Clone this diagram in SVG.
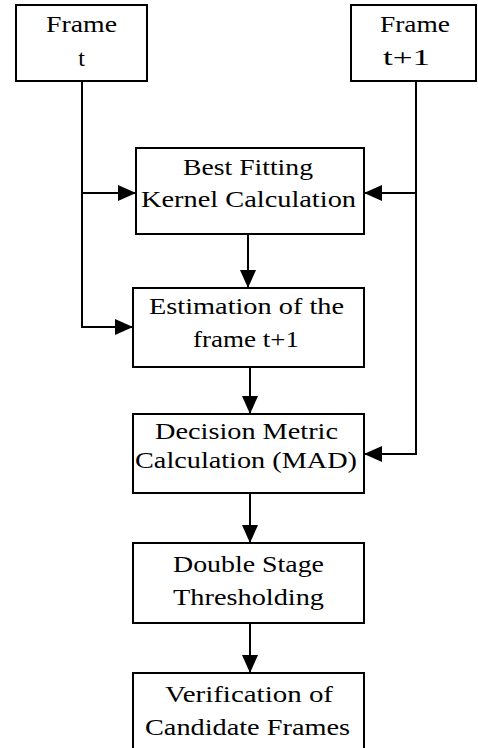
<svg xmlns="http://www.w3.org/2000/svg" width="478" height="748" viewBox="0 0 478 748">
<style>
.box{fill:#fff;stroke:#000;stroke-width:2}
.lbl{font-family:"Liberation Serif","Times New Roman",serif;font-size:24px;fill:#000}
.ln{fill:none;stroke:#000;stroke-width:2}
</style>
<defs>
<marker id="ah" viewBox="0 0 18 16" refX="18" refY="8" markerWidth="18" markerHeight="16" markerUnits="userSpaceOnUse" orient="auto">
<path d="M0,0 L18,8 L0,16 z" fill="#000"/>
</marker>
</defs>
<rect width="478" height="748" fill="#fff"/>
<g id="connectors">
<path class="ln" d="M82,81 V327 H133" marker-end="url(#ah)"/>
<path class="ln" d="M82,193 H136" marker-end="url(#ah)"/>
<path class="ln" d="M416,81 V454 H364" marker-end="url(#ah)"/>
<path class="ln" d="M416,193 H364" marker-end="url(#ah)"/>
<path class="ln" d="M248,234 V288" marker-end="url(#ah)"/>
<path class="ln" d="M250,367 V414" marker-end="url(#ah)"/>
<path class="ln" d="M250,493 V543" marker-end="url(#ah)"/>
<path class="ln" d="M250,623 V673" marker-end="url(#ah)"/>
</g>
<g id="frame-t">
<rect class="box" x="16" y="5" width="131" height="76"/>
<text class="lbl" x="46" y="32" textLength="71" lengthAdjust="spacingAndGlyphs">Frame</text>
<text class="lbl" x="81.5" y="66" text-anchor="middle">t</text>
</g>
<g id="frame-t1">
<rect class="box" x="351" y="5" width="125" height="76"/>
<text class="lbl" x="380" y="32" textLength="70" lengthAdjust="spacingAndGlyphs">Frame</text>
<text class="lbl" x="383" y="65" textLength="47" lengthAdjust="spacingAndGlyphs">t+1</text>
</g>
<g id="best-fitting">
<rect class="box" x="136" y="148" width="228" height="86"/>
<text class="lbl" x="183" y="175" textLength="130" lengthAdjust="spacingAndGlyphs">Best Fitting</text>
<text class="lbl" x="141" y="207" textLength="215" lengthAdjust="spacingAndGlyphs">Kernel Calculation</text>
</g>
<g id="estimation">
<rect class="box" x="133" y="288" width="231" height="79"/>
<text class="lbl" x="149" y="314" textLength="195" lengthAdjust="spacingAndGlyphs">Estimation of the</text>
<text class="lbl" x="193" y="347" textLength="106" lengthAdjust="spacingAndGlyphs">frame t+1</text>
</g>
<g id="decision">
<rect class="box" x="133" y="414" width="231" height="79"/>
<text class="lbl" x="155" y="439" textLength="183" lengthAdjust="spacingAndGlyphs">Decision Metric</text>
<text class="lbl" x="135" y="468" textLength="222" lengthAdjust="spacingAndGlyphs">Calculation (MAD)</text>
</g>
<g id="double-stage">
<rect class="box" x="133" y="543" width="231" height="80"/>
<text class="lbl" x="173" y="572" textLength="151" lengthAdjust="spacingAndGlyphs">Double Stage</text>
<text class="lbl" x="173" y="605" textLength="151" lengthAdjust="spacingAndGlyphs">Thresholding</text>
</g>
<g id="verification">
<rect class="box" x="133" y="673" width="231" height="90"/>
<text class="lbl" x="165" y="702" textLength="168" lengthAdjust="spacingAndGlyphs">Verification of</text>
<text class="lbl" x="145" y="735" textLength="205" lengthAdjust="spacingAndGlyphs">Candidate Frames</text>
</g>
</svg>
